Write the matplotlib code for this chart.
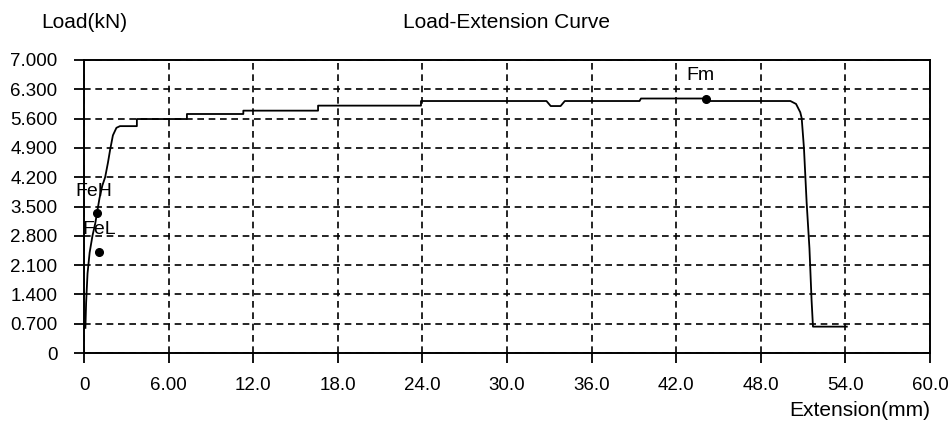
import numpy as np
import matplotlib
matplotlib.use('Agg')
import matplotlib.pyplot as plt

plt.rcParams['font.family'] = ['Liberation Sans', 'DejaVu Sans']

# load-extension curve (mm, kN)
ext = [0.1, 0.15, 0.25, 0.4, 0.6, 0.8, 0.95, 1.1, 1.3, 1.5, 1.7, 1.85, 2.05, 2.3, 2.55,
       3.75, 3.75, 7.3, 7.3, 11.3, 11.3, 16.6, 16.6, 23.9, 23.9, 32.8, 33.1, 33.8, 34.1,
       39.4, 39.5, 44.1, 44.3, 50.1, 50.5, 50.8, 50.9, 51.06, 51.25, 51.45, 51.6, 51.7, 54.1]
load = [0.60, 1.20, 1.90, 2.40, 2.80, 3.10, 3.40, 3.70, 4.00, 4.20, 4.55, 4.85, 5.20, 5.38, 5.42,
        5.42, 5.59, 5.59, 5.71, 5.71, 5.79, 5.79, 5.91, 5.91, 6.02, 6.02, 5.90, 5.90, 6.02,
        6.02, 6.08, 6.08, 6.02, 6.02, 5.95, 5.75, 5.61, 4.90, 3.60, 2.50, 1.27, 0.63, 0.63]

# marked points
pt_names = ['FeH', 'FeL', 'Fm']
pt_x = [0.94, 1.06, 44.1]
pt_y = [3.34, 2.42, 6.08]

xticks = np.arange(0, 60.1, 6)
xlabels = ['0', '6.00', '12.0', '18.0', '24.0', '30.0', '36.0', '42.0', '48.0', '54.0', '60.0']
yticks = np.arange(0, 7.01, 0.7)
ylabels = ['0', '0.700', '1.400', '2.100', '2.800', '3.500', '4.200', '4.900', '5.600', '6.300', '7.000']

fig = plt.figure(figsize=(9.5, 4.26), dpi=100)
ax = fig.add_axes([84/950, 73/426, 846/950, 293/426])

ax.plot(ext, load, color='black', lw=1.3)
ax.plot(pt_x, pt_y, 'o', color='black', ms=5.5)

ax.text(-0.6, 3.85, pt_names[0], fontsize=14, va='center', ha='left')
ax.text(-0.15, 2.95, pt_names[1], fontsize=14, va='center', ha='left')
ax.text(43.7, 6.63, pt_names[2], fontsize=14, va='center', ha='center')

ax.set_xlim(0, 60)
ax.set_ylim(0, 7)
ax.set_xticks(xticks)
ax.set_xticklabels(xlabels, fontsize=13.5)
ax.set_yticks(yticks)
ax.set_yticklabels(ylabels, fontsize=13.5)
ax.tick_params(axis='both', direction='out', length=7, width=1.3, color='black')
ax.tick_params(axis='x', pad=10)
ax.tick_params(axis='y', pad=12)
ax.grid(True, color='black', linestyle=(0, (4, 2.8)), lw=1.2)
for s in ax.spines.values():
    s.set_linewidth(1.4)

fig.text(84/950, 1 - 23/426, 'Load(kN)', fontsize=15, ha='center', va='center')
fig.text(506/950, 1 - 22/426, 'Load-Extension Curve', fontsize=15, ha='center', va='center')
fig.text(860/950, 1 - 410/426, 'Extension(mm)', fontsize=15, ha='center', va='center')

plt.savefig('out.png', dpi=100)
